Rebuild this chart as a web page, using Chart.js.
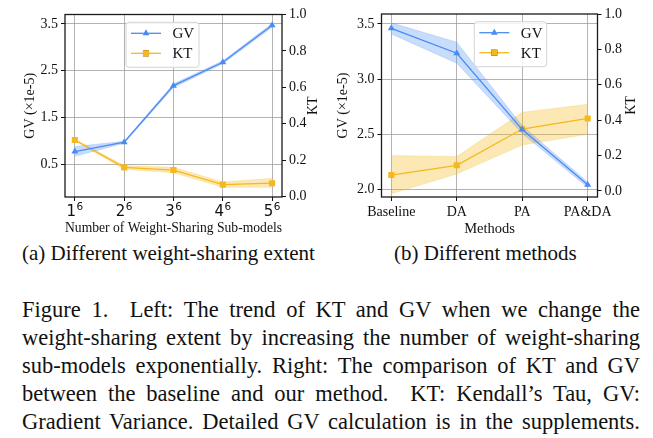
<!DOCTYPE html>
<html><head><meta charset="utf-8">
<script src="https://cdn.jsdelivr.net/npm/chart.js@4/dist/chart.umd.min.js"></script>
<style>
html,body{margin:0;padding:0;background:#fff;width:653px;height:438px;overflow:hidden;position:relative;font-family:"Liberation Serif","Times New Roman",serif;color:#111;}
#c1{position:absolute;left:0;top:0;}
#c2{position:absolute;left:326px;top:0;}
.sub{position:absolute;top:240px;font-size:21px;white-space:nowrap;line-height:26px;}
#capA{left:22px;} #capB{left:394px;}
#cap{position:absolute;left:22px;top:296px;width:618px;font-size:22.5px;line-height:28px;}
#cap div{text-align:justify;text-align-last:justify;white-space:nowrap;}
</style>
</head><body>
<canvas id="c1" width="326" height="240"></canvas>
<canvas id="c2" width="327" height="240"></canvas>
<div class="sub" id="capA">(a) Different weight-sharing extent</div>
<div class="sub" id="capB">(b) Different methods</div>
<div id="cap">
<div>Figure 1.&nbsp; Left: The trend of KT and GV when we change the</div>
<div>weight-sharing extent by increasing the number of weight-sharing</div>
<div>sub-models exponentially. Right: The comparison of KT and GV</div>
<div>between the baseline and our method.&nbsp; KT: Kendall’s Tau, GV:</div>
<div>Gradient Variance. Detailed GV calculation is in the supplements.</div>
</div>
<script>
// ---- data: left panel ----
const cats1Base = ['1','2','3','4','5'];
const cats1Exp  = '6';
const gv1   = [0.77, 0.97, 2.18, 2.68, 3.47];
const gv1Lo = [0.67, 0.95, 2.14, 2.65, 3.43];
const gv1Hi = [0.88, 0.99, 2.22, 2.71, 3.51];
const kt1   = [0.31, 0.16, 0.145, 0.065, 0.073];
const kt1Lo = [0.305, 0.15, 0.13, 0.05, 0.05];
const kt1Hi = [0.315, 0.17, 0.16, 0.08, 0.10];
const gvTicks1 = [0.5, 1.5, 2.5, 3.5];
// ---- data: right panel ----
const cats2 = ['Baseline','DA','PA','PA&DA'];
const gv2   = [3.46, 3.235, 2.545, 2.045];
const gv2Lo = [3.41, 3.145, 2.51, 2.02];
const gv2Hi = [3.51, 3.335, 2.58, 2.07];
const kt2   = [0.09, 0.145, 0.35, 0.41];
const kt2Lo = [-0.015, 0.096, 0.26, 0.32];
const kt2Hi = [0.20, 0.195, 0.445, 0.49];
const gvTicks2 = [2.0, 2.5, 3.0, 3.5];
const ktTicks = [0, 0.2, 0.4, 0.6, 0.8, 1.0];

const BLUE = '#4a8af4', BLUE_F = 'rgba(74,138,244,0.30)';
const YEL = '#f7b81c', YEL_F = 'rgba(247,184,28,0.33)';
const SERIF = '"Liberation Serif","Times New Roman",serif';

const pts = (arr) => arr.map((v, i) => ({x: i, y: v}));

function makeDatasets(gv, gvLo, gvHi, kt, ktLo, ktHi) {
  return [
    {label:'GV', data:pts(gv), yAxisID:'y', borderColor:BLUE, backgroundColor:BLUE, borderWidth:1.3,
     pointStyle:'triangle', pointRadius:4, pointBorderWidth:0, fill:false, tension:0},
    {label:'KT', data:pts(kt), yAxisID:'y1', borderColor:YEL, backgroundColor:YEL, borderWidth:1.3,
     pointStyle:'rect', pointRadius:4.3, pointBorderWidth:0, fill:false, tension:0},
    {label:'gvHi', data:pts(gvHi), yAxisID:'y', borderColor:'rgba(74,138,244,0.25)', borderWidth:0.8, pointRadius:0, fill:false},
    {label:'gvLo', data:pts(gvLo), yAxisID:'y', borderColor:'rgba(74,138,244,0.25)', borderWidth:0.8, pointRadius:0, fill:'-1', backgroundColor:BLUE_F},
    {label:'ktHi', data:pts(ktHi), yAxisID:'y1', borderColor:'rgba(247,184,28,0.25)', borderWidth:0.8, pointRadius:0, fill:false},
    {label:'ktLo', data:pts(ktLo), yAxisID:'y1', borderColor:'rgba(247,184,28,0.25)', borderWidth:0.8, pointRadius:0, fill:'-1', backgroundColor:YEL_F}
  ];
}

const framePlugin = {
  id:'frame',
  afterDatasetsDraw(chart){
    const {ctx, chartArea:a} = chart;
    ctx.save(); ctx.strokeStyle='#1a1a1a'; ctx.lineWidth=1.3;
    ctx.strokeRect(a.left, a.top, a.right-a.left, a.bottom-a.top);
    ctx.restore();
  }
};

// right-hand axis title, drawn reading bottom-to-top like matplotlib
const rightTitlePlugin = {
  id:'rightTitle',
  afterDraw(chart, args, opts){
    const {ctx, chartArea:a} = chart;
    ctx.save();
    ctx.translate(opts.x, (a.top + a.bottom) / 2);
    ctx.rotate(-Math.PI / 2);
    ctx.fillStyle = '#111'; ctx.font = '14px ' + SERIF;
    ctx.textAlign = 'center'; ctx.textBaseline = 'middle';
    ctx.fillText(opts.text, 0, 0);
    ctx.restore();
  }
};

// tick labels with a superscript exponent (base^exp), placed through the x scale
const powerTicksPlugin = {
  id:'powerTicks',
  afterDraw(chart, args, opts){
    if (!opts.base) return;
    const {ctx} = chart;
    const xs = chart.scales.x;
    const yBase = chart.chartArea.bottom + opts.dy;
    ctx.save();
    ctx.fillStyle = '#111'; ctx.textBaseline = 'alphabetic'; ctx.textAlign = 'left';
    opts.base.forEach((b, i) => {
      const px = xs.getPixelForValue(i);
      ctx.font = opts.size + 'px "DejaVu Sans"';
      const wb = ctx.measureText(b).width;
      ctx.font = opts.expSize + 'px "DejaVu Sans"';
      const we = ctx.measureText(opts.exp).width;
      const x0 = px - (wb + we + 0.5) / 2;
      ctx.font = opts.size + 'px "DejaVu Sans"';
      ctx.fillText(b, x0, yBase);
      ctx.font = opts.expSize + 'px "DejaVu Sans"';
      ctx.fillText(opts.exp, x0 + wb + 0.5, yBase - opts.size * 0.42);
    });
    ctx.restore();
  }
};

const legendPlugin = {
  id:'boxLegend',
  afterDraw(chart, args, opts){
    const {ctx, chartArea:a} = chart;
    const x = a.left + opts.dx, y = a.top + opts.dy, w = opts.w, h = opts.h;
    ctx.save();
    ctx.beginPath();
    const r = 3;
    ctx.moveTo(x+r,y); ctx.lineTo(x+w-r,y); ctx.quadraticCurveTo(x+w,y,x+w,y+r);
    ctx.lineTo(x+w,y+h-r); ctx.quadraticCurveTo(x+w,y+h,x+w-r,y+h);
    ctx.lineTo(x+r,y+h); ctx.quadraticCurveTo(x,y+h,x,y+h-r);
    ctx.lineTo(x,y+r); ctx.quadraticCurveTo(x,y,x+r,y); ctx.closePath();
    ctx.fillStyle='rgba(255,255,255,0.85)'; ctx.fill();
    ctx.strokeStyle='#d4d4d4'; ctx.lineWidth=1; ctx.stroke();
    [0,1].forEach((di, k) => {
      const ds = chart.data.datasets[di];
      const yy = y + 11 + k*20;
      ctx.strokeStyle = ds.borderColor; ctx.lineWidth = ds.borderWidth;
      ctx.beginPath(); ctx.moveTo(x+5, yy); ctx.lineTo(x+35, yy); ctx.stroke();
      Chart.helpers.drawPoint(ctx, {pointStyle: ds.pointStyle, radius: ds.pointRadius, borderWidth: 0, rotation: 0}, x+20, yy);
      ctx.fillStyle = ds.borderColor; ctx.fill();
      ctx.fillStyle = '#111'; ctx.font = '15px ' + SERIF; ctx.textBaseline = 'middle'; ctx.textAlign = 'left';
      ctx.fillText(ds.label, x+46.5, yy+1);
    });
    ctx.restore();
  }
};

function gridOpts(onArea){
  return {display:true, drawOnChartArea:onArea, color:'#a0a0a0', lineWidth:0.8, borderDash:[2.2,2.2],
          tickColor:'#111', tickLength:4, tickWidth:1, tickBorderDash:[]};
}

function buildChart(id, cats, gvTicks, datasets, cfg){
  return new Chart(document.getElementById(id), {
    type:'line',
    data:{datasets},
    plugins:[framePlugin, legendPlugin, rightTitlePlugin, powerTicksPlugin],
    options:{
      responsive:false, animation:false, devicePixelRatio:1,
      layout:{padding:{top:cfg.top, left:0, right:0, bottom:0}},
      plugins:{legend:{display:false}, tooltip:{enabled:false},
               boxLegend:{dx:cfg.legDx, dy:cfg.legDy, w:cfg.legW, h:45},
               rightTitle:{text:'KT', x:cfg.ktX},
               powerTicks:cfg.power || {}},
      scales:{
        x:{type:'linear', min:cfg.xmin, max:cfg.xmax,
           afterBuildTicks:(s)=>{ s.ticks = cats.map((c,i)=>({value:i})); },
           afterFit:(s)=>{ s.height = cfg.xh; },
           ticks:{display:!cfg.power, callback:(v)=>cats[v], color:'#111', padding:cfg.xPad, maxRotation:0, autoSkip:false,
                  font:{family:cfg.xFont, size:cfg.xSize}},
           grid:gridOpts(true), border:{display:false},
           title:{display:true, text:cfg.xTitle, color:'#111', font:{family:SERIF, size:14.5}, padding:{top:0,bottom:cfg.xTitlePad}}},
        y:{position:'left', min:cfg.ymin, max:cfg.ymax,
           afterBuildTicks:(s)=>{ s.ticks = gvTicks.map(v=>({value:v})); },
           afterFit:(s)=>{ s.width = cfg.yw; },
           ticks:{callback:(v)=>v.toFixed(1), color:'#111', padding:3, font:{family:SERIF, size:14}},
           grid:gridOpts(true), border:{display:false},
           title:{display:true, text:'GV (\u00d71e-5)', color:'#111', font:{family:SERIF, size:14}, padding:{top:cfg.yTitlePad,bottom:0}}},
        y1:{position:'right', min:cfg.kmin, max:cfg.kmax,
           afterBuildTicks:(s)=>{ s.ticks = ktTicks.map(v=>({value:v})); },
           afterFit:(s)=>{ s.width = cfg.y1w; },
           ticks:{callback:(v)=>v.toFixed(1), color:'#111', padding:3, font:{family:SERIF, size:14}},
           grid:gridOpts(false), border:{display:false},
           title:{display:false}}
      }
    }
  });
}

buildChart('c1', cats1Base.map(b => b + '^' + cats1Exp), gvTicks1, makeDatasets(gv1, gv1Lo, gv1Hi, kt1, kt1Lo, kt1Hi), {
  top:14.5, xmin:-0.2, xmax:4.2, xh:43, xFont:'"DejaVu Sans"', xSize:15, xPad:1,
  power:{base:cats1Base, exp:cats1Exp, size:15, expSize:10.5, dy:19},
  xTitle:'Number of Weight-Sharing Sub-models', xTitlePad:3.2,
  ymin:-0.2, ymax:3.7, yw:65, yTitlePad:21.6,
  kmin:-0.003, kmax:1.0, y1w:44, ktX:313.3,
  legDx:61, legDy:7.8, legW:73
});
buildChart('c2', cats2, gvTicks2, makeDatasets(gv2, gv2Lo, gv2Hi, kt2, kt2Lo, kt2Hi), {
  top:14, xmin:-0.15, xmax:3.15, xh:43, xFont:SERIF, xSize:14, xPad:3,
  xTitle:'Methods', xTitlePad:2.6,
  ymin:1.935, ymax:3.59, yw:55.5, yTitlePad:8.9,
  kmin:-0.034, kmax:1.0, y1w:55.5, ktX:305.7,
  legDx:92.8, legDy:7.7, legW:72.4
});
</script>
</body></html>
